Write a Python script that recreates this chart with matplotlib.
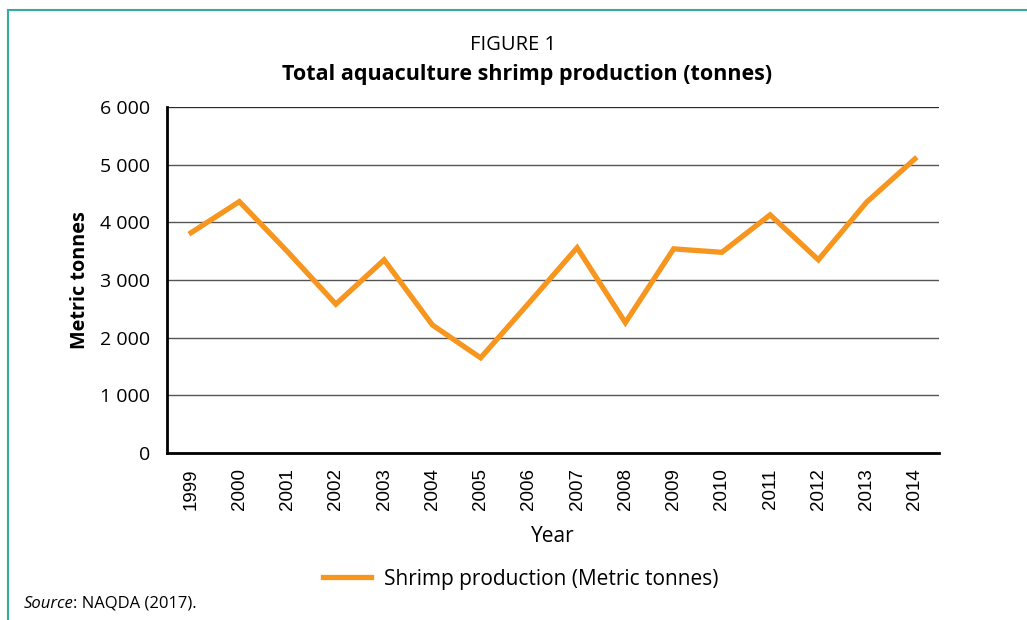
import matplotlib.pyplot as plt
from matplotlib.patches import Rectangle

years = [str(y) for y in range(1999, 2015)]
production = [3820, 4360, 3490, 2580, 3350, 2220, 1650, 2600,
              3560, 2260, 3540, 3480, 4130, 3350, 4350, 5100]
yticks = [0, 1000, 2000, 3000, 4000, 5000, 6000]
ytick_labels = ["0", "1 000", "2 000", "3 000", "4 000", "5 000", "6 000"]

plt.rcParams['font.family'] = ['Open Sans', 'DejaVu Sans']

fig = plt.figure(figsize=(10.27, 6.2), dpi=100)
ax = fig.add_axes([0.1626, 0.2694, 0.7517, 0.558])

x = list(range(len(years)))
ax.plot(x, production, color='#f7961f', linewidth=3.8,
        solid_joinstyle='miter', label='Shrimp production (Metric tonnes)')

ax.set_xlim(-0.5, len(years) - 0.5)
ax.set_ylim(0, 6000)
ax.set_yticks(yticks)
ax.set_yticklabels(ytick_labels, fontsize=14)
ax.set_xticks(x)
ax.set_xticklabels(years, rotation=90, fontsize=13.5, family='Liberation Sans')
ax.tick_params(length=0, pad=12)
ax.tick_params(axis='x', pad=11)

ax.grid(axis='y', color='#555555', linewidth=1)
ax.set_axisbelow(True)
for s in ['top', 'right']:
    ax.spines[s].set_visible(False)
ax.spines['left'].set_linewidth(2)
ax.spines['bottom'].set_linewidth(2)
ax.axhline(6000, color='#222222', linewidth=1.2)

ax.set_ylabel('Metric tonnes', fontsize=14.3, fontweight='bold', labelpad=7)
ax.set_xlabel('Year', fontsize=15, labelpad=11)

fig.text(0.4995, 0.928, 'FIGURE 1', ha='center', va='center', fontsize=14.5)
fig.text(0.513, 0.88, 'Total aquaculture shrimp production (tonnes)',
         ha='center', va='center', fontsize=15.5, fontweight='bold')

ax.legend(loc='center', bbox_to_anchor=(0.458, -0.365), frameon=False,
          fontsize=15, handlelength=2.3, handletextpad=0.6)

src = fig.text(0.023, 0.026, 'Source', style='italic', fontsize=12, va='center')
ax.annotate(': NAQDA (2017).', xy=(1, 0.5), xycoords=src, va='center',
            fontsize=12, annotation_clip=False)

fig.patches.append(Rectangle((0.008, -0.1), 1.1, 1.084, transform=fig.transFigure,
                             fill=False, edgecolor='#36a9a1', linewidth=1.5))

fig.savefig('out.png', dpi=100)
